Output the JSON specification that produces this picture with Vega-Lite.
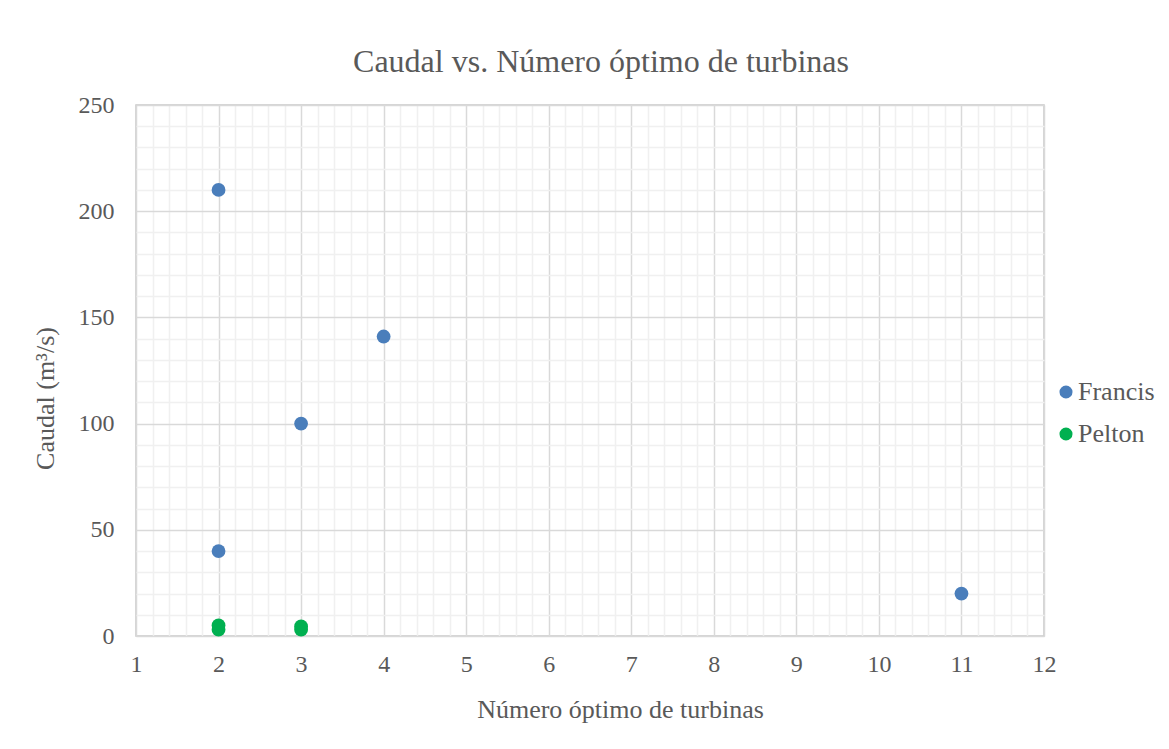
{
  "$schema": "https://vega.github.io/schema/vega-lite/v6.json",
  "width": 908,
  "height": 531,
  "autosize": "none",
  "padding": {"left": 136, "top": 105, "right": 125, "bottom": 113},
  "background": "white",
  "config": {
    "font": "Liberation Serif",
    "view": {"stroke": "#C8C8C8", "strokeWidth": 1.5},
    "axis": {"labelFont": "Liberation Serif", "titleFont": "Liberation Serif", "labelColor": "#595959", "titleColor": "#595959", "titleFontWeight": "normal"},
    "legend": {"labelFont": "Liberation Serif", "labelColor": "#595959"}
  },
  "title": {
    "text": "Caudal vs. Número óptimo de turbinas",
    "fontSize": 32,
    "font": "Liberation Serif",
    "fontWeight": "normal",
    "color": "#595959",
    "anchor": "middle",
    "offset": 14,
    "dx": 11
  },
  "data": {
    "values": [
      {"turbinas": 2, "caudal": 210, "tipo": "Francis"},
      {"turbinas": 2, "caudal": 40, "tipo": "Francis"},
      {"turbinas": 3, "caudal": 100, "tipo": "Francis"},
      {"turbinas": 4, "caudal": 141, "tipo": "Francis"},
      {"turbinas": 11, "caudal": 20, "tipo": "Francis"},
      {"turbinas": 2, "caudal": 5, "tipo": "Pelton"},
      {"turbinas": 2, "caudal": 3, "tipo": "Pelton"},
      {"turbinas": 3, "caudal": 4.5, "tipo": "Pelton"},
      {"turbinas": 3, "caudal": 3, "tipo": "Pelton"}
    ]
  },
  "layer": [
    {
      "mark": {"type": "point", "opacity": 0},
      "encoding": {
        "x": {
          "field": "turbinas", "type": "quantitative",
          "scale": {"domain": [1, 12], "nice": false, "zero": false},
          "axis": {
            "orient": "top", "title": null, "labels": false, "ticks": false, "domain": false,
            "grid": true, "gridColor": "#F0F0F0", "gridWidth": 1.5,
            "values": [1.2,1.4,1.6,1.8,2.2,2.4,2.6,2.8,3.2,3.4,3.6,3.8,4.2,4.4,4.6,4.8,5.2,5.4,5.6,5.8,6.2,6.4,6.6,6.8,7.2,7.4,7.6,7.8,8.2,8.4,8.6,8.8,9.2,9.4,9.6,9.8,10.2,10.4,10.6,10.8,11.2,11.4,11.6,11.8]
          }
        },
        "y": {
          "field": "caudal", "type": "quantitative",
          "scale": {"domain": [0, 250], "nice": false, "zero": true},
          "axis": {
            "orient": "right", "title": null, "labels": false, "ticks": false, "domain": false,
            "grid": true, "gridColor": "#F0F0F0", "gridWidth": 1.5,
            "values": [10,20,30,40,60,70,80,90,110,120,130,140,160,170,180,190,210,220,230,240]
          }
        }
      }
    },
    {
      "mark": {"type": "circle", "opacity": 1, "size": 190},
      "encoding": {
        "x": {
          "field": "turbinas", "type": "quantitative",
          "scale": {"domain": [1, 12], "nice": false, "zero": false},
          "axis": {
            "orient": "bottom", "title": "Número óptimo de turbinas", "titleFontSize": 26,
            "titlePadding": 20, "titleX": 484,
            "values": [1,2,3,4,5,6,7,8,9,10,11,12],
            "labelFontSize": 24, "labelPadding": 16, "labelFlush": false, "labelOverlap": false,
            "ticks": false, "domain": false,
            "grid": true, "gridColor": "#D9D9D9", "gridWidth": 1.5
          }
        },
        "y": {
          "field": "caudal", "type": "quantitative",
          "scale": {"domain": [0, 250], "nice": false, "zero": true},
          "axis": {
            "orient": "left", "title": "Caudal (m³/s)", "titleFontSize": 26,
            "titlePadding": 20, "titleY": 293,
            "values": [0,50,100,150,200,250],
            "labelFontSize": 24, "labelPadding": 22, "labelFlush": false, "labelOverlap": false,
            "ticks": false, "domain": false,
            "grid": true, "gridColor": "#D9D9D9", "gridWidth": 1.5
          }
        },
        "color": {
          "field": "tipo", "type": "nominal",
          "scale": {"domain": ["Francis", "Pelton"], "range": ["#4A7EBB", "#00B050"]},
          "legend": {
            "title": null, "orient": "none", "legendX": 917, "legendY": 274,
            "labelFontSize": 26, "symbolSize": 170, "symbolType": "circle",
            "rowPadding": 16, "labelOffset": -1
          }
        }
      }
    }
  ],
  "resolve": {"axis": {"x": "independent", "y": "independent"}}
}
